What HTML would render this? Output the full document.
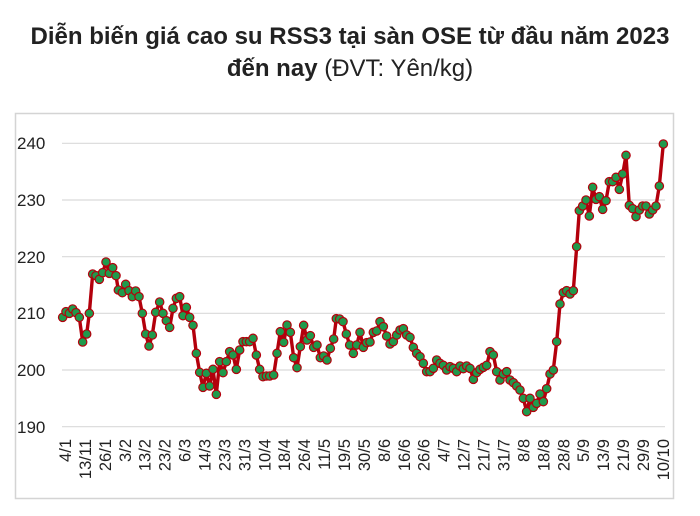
<!DOCTYPE html>
<html><head><meta charset="utf-8"><style>
html,body{margin:0;padding:0;background:#fff;}
body{width:700px;height:516px;overflow:hidden;position:relative;font-family:"Liberation Sans",sans-serif;}
.t{position:absolute;left:0;width:700px;text-align:center;font-size:24px;line-height:28px;font-weight:bold;color:#222;white-space:nowrap;}
</style></head><body>
<div class="t" style="top:23px">Diễn biến giá cao su RSS3 tại sàn OSE từ đầu năm 2023</div>
<div class="t" style="top:55px">đến nay <span style="font-weight:normal">(ĐVT: Yên/kg)</span></div>
<svg id="s" width="700" height="516" style="position:absolute;left:0;top:0" xmlns="http://www.w3.org/2000/svg">
<rect x="15.5" y="113.5" width="658" height="385" fill="none" stroke="#d4d4d4" stroke-width="1.5"/>
<g stroke="#d9d9d9" stroke-width="1.2">
<line x1="62" x2="665" y1="143.3" y2="143.3"/><line x1="62" x2="665" y1="200" y2="200"/>
<line x1="62" x2="665" y1="256.7" y2="256.7"/><line x1="62" x2="665" y1="313.3" y2="313.3"/>
<line x1="62" x2="665" y1="370" y2="370"/><line x1="62" x2="665" y1="426.7" y2="426.7"/>
</g>
<g font-size="17" fill="#222" font-family="Liberation Sans, sans-serif">
<text x="17" y="149">240</text><text x="17" y="206">230</text><text x="17" y="263">220</text>
<text x="17" y="319">210</text><text x="17" y="376">200</text><text x="17" y="433">190</text>
</g>
<g id="xl" font-size="16.5" fill="#222" font-family="Liberation Sans, sans-serif"></g>
<polyline id="ln" fill="none" stroke="#b3000c" stroke-width="3.4" stroke-linejoin="round"/>
<g id="mk" fill="#1f9a4c" stroke="#b3000c" stroke-width="1.2"></g>
</svg>
<script>
var L=[188,652,198,635,208,640,218,627,228,638,238,652,248,726,260,702,268,640,278,522,288,527,298,538,308,518,318,486,328,520,338,503,348,527,355,570,367,578,377,553,387,572,397,590,407,573,417,590,427,640,437,702,447,738,457,705,467,637,479,606,489,640,499,662,509,682,519,625,529,595,539,590,549,647,559,622,569,652,579,676,589,760,599,817,609,862,619,820,629,858,639,808,649,883,659,785,669,818,679,785,689,755,699,765,709,808,719,750,729,725,739,725,749,725,759,715,769,765,779,808,789,830,799,828,809,828,821,825,831,760,841,695,851,727,861,675,871,697,881,773,891,803,901,740,911,676,921,720,931,707,941,742,951,735,961,773,971,768,981,780,991,745,1001,717,1009,656,1019,657,1029,665,1039,702,1049,735];
var R=[10,760,20,735,30,697,40,742,50,728,60,726,70,697,80,693,90,665,100,680,110,708,120,732,130,725,140,705,150,690,160,686,170,705,180,712,190,742,200,760,210,770,220,790,230,815,240,815,250,805,260,780,270,790,280,796,290,810,300,800,310,805,320,815,330,798,340,806,350,798,360,805,370,838,380,818,390,808,400,802,410,796,420,755,430,765,440,815,450,840,460,822,470,815,480,840,490,848,500,858,510,870,520,895,530,935,540,895,550,922,560,910,570,882,580,905,590,866,600,822,610,810,620,725,630,612,640,578,650,572,660,582,670,572,680,440,688,332,698,318,708,300,718,348,728,262,738,298,748,290,758,328,768,302,778,245,788,245,798,232,808,268,818,222,828,166,838,316,848,326,858,350,868,330,878,318,888,318,898,342,908,330,918,318,928,258,940,132];
var P=[];
for(var i=0;i<L.length;i+=2)P.push([L[i]/3,100+L[i+1]/3]);
for(var i=0;i<R.length;i+=2)P.push([350+R[i]/3,100+R[i+1]/3]);
var ns="http://www.w3.org/2000/svg";
document.getElementById('ln').setAttribute('points',P.map(function(p){return p[0].toFixed(1)+','+p[1].toFixed(1)}).join(' '));
var mk=document.getElementById('mk');
P.forEach(function(p){var c=document.createElementNS(ns,'circle');c.setAttribute('cx',p[0]);c.setAttribute('cy',p[1]);c.setAttribute('r',4.2);mk.appendChild(c);});
var labs="4/1 13/11 26/1 3/2 13/2 23/2 6/3 14/3 23/3 31/3 10/4 18/4 26/4 11/5 19/5 30/5 8/6 16/6 26/6 4/7 12/7 21/7 31/7 8/8 18/8 28/8 5/9 13/9 21/9 29/9 10/10".split(' ');
var xl=document.getElementById('xl');
labs.forEach(function(s,i){var x=65+i*19.93+6;var t=document.createElementNS(ns,'text');t.setAttribute('x',0);t.setAttribute('y',0);t.setAttribute('text-anchor','end');t.setAttribute('transform','translate('+x+',439) rotate(-90)');t.textContent=s;xl.appendChild(t);});
</script>
</body></html>
